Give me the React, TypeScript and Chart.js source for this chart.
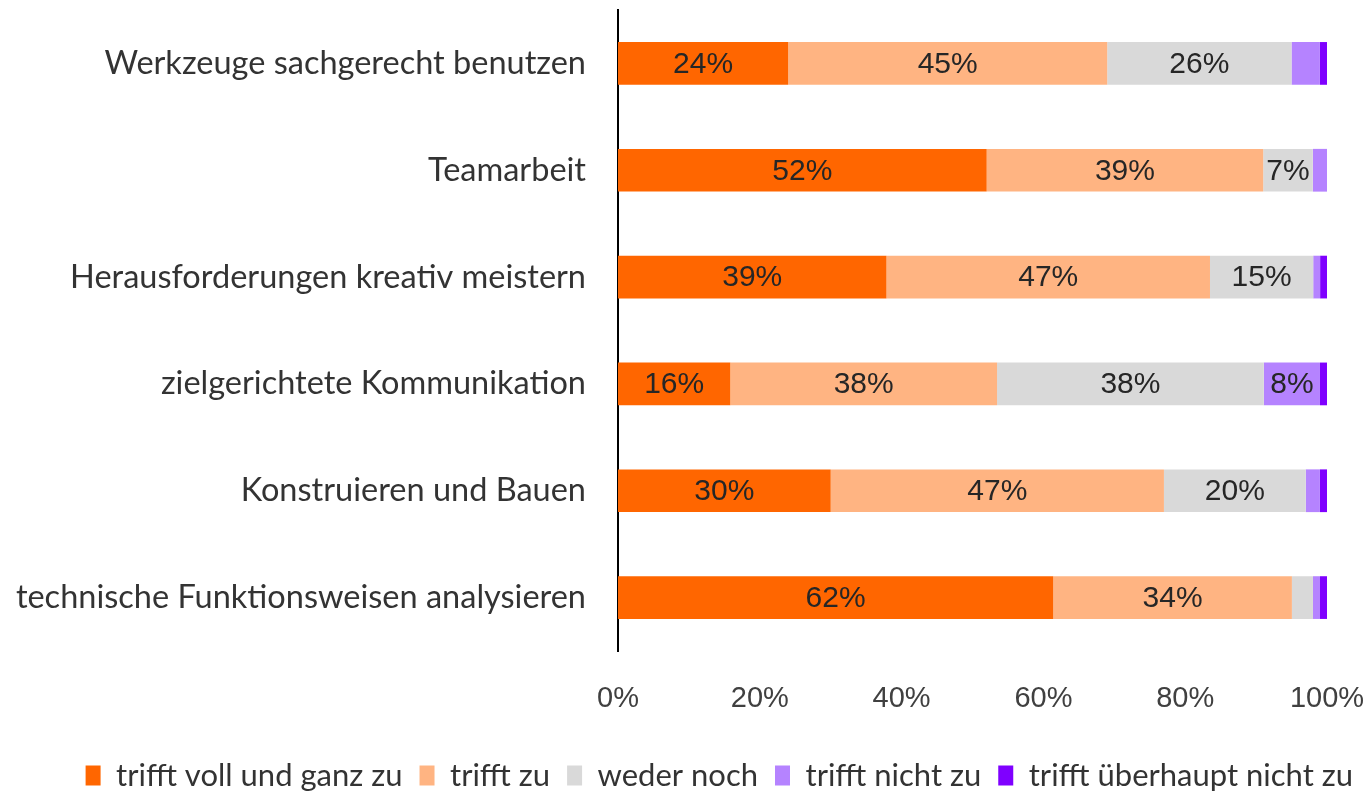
import React, { useEffect, useRef } from "react";
import { Chart, registerables } from "chart.js";

Chart.register(...registerables);

const categories = [
  "Werkzeuge sachgerecht benutzen",
  "Teamarbeit",
  "Herausforderungen kreativ meistern",
  "zielgerichtete Kommunikation",
  "Konstruieren und Bauen",
  "technische Funktionsweisen analysieren",
];

const seriesNames = [
  "trifft voll und ganz zu",
  "trifft zu",
  "weder noch",
  "trifft nicht zu",
  "trifft überhaupt nicht zu",
];

const voll = [24, 52, 39, 16, 30, 62];
const zu = [45, 39, 47, 38, 47, 34];
const weder = [26, 7, 15, 38, 20, 3];
const nicht = [4, 2, 1, 8, 2, 1];
const ueberhaupt = [1, 0, 1, 1, 1, 1];

const xTicks = [0, 20, 40, 60, 80, 100];

const colors = ["#FF6600", "#FFB482", "#D9D9D9", "#B583FF", "#7F00FF"];

const rawSeries = [voll, zu, weder, nicht, ueberhaupt];
const totals = categories.map((_, i) => rawSeries.reduce((s, arr) => s + arr[i], 0));

const labelPlugin = {
  id: "segLabels",
  afterDatasetsDraw(chart: any) {
    const ctx = chart.ctx;
    ctx.save();
    ctx.font = "30px 'Liberation Sans', Arial, sans-serif";
    ctx.fillStyle = "#262626";
    ctx.textAlign = "center";
    ctx.textBaseline = "middle";
    chart.data.datasets.forEach((ds: any, di: number) => {
      const meta = chart.getDatasetMeta(di);
      meta.data.forEach((bar: any, i: number) => {
        const raw = ds.raw[i];
        if (raw < 5) return;
        const x = (bar.x + bar.base) / 2;
        ctx.fillText(raw + "%", x, bar.y + 1);
      });
    });
    ctx.restore();
  },
};

export default function App() {
  const ref = useRef<HTMLCanvasElement>(null);
  useEffect(() => {
    document.body.style.margin = "0";
    const chart = new Chart(ref.current!, {
      type: "bar",
      data: {
        labels: categories,
        datasets: rawSeries.map((arr, k) => ({
          label: seriesNames[k],
          data: arr.map((v, i) => (v / totals[i]) * 100),
          raw: arr,
          backgroundColor: colors[k],
          borderWidth: 0,
          barPercentage: 0.8,
          categoryPercentage: 0.5,
        })) as any,
      },
      options: {
        indexAxis: "y",
        animation: false,
        responsive: true,
        maintainAspectRatio: false,
        layout: { padding: { top: 10, right: 0, bottom: -10, left: 0 } },
        plugins: {
          tooltip: { enabled: false },
          legend: {
            position: "bottom",
            align: "end",
            labels: {
              font: { family: "Lato", size: 31 },
              color: "#333333",
              boxWidth: 15,
              boxHeight: 20,
              padding: 17,
            },
          },
        },
        scales: {
          x: {
            stacked: true,
            min: 0,
            max: 100,
            afterBuildTicks: (scale: any) => {
              scale.ticks = xTicks.map((v) => ({ value: v }));
            },
            ticks: {
              callback: (v: any) => v + "%",
              font: { family: "'Liberation Sans', Arial", size: 29 },
              color: "#404040",
              padding: 31,
            },
            grid: { display: false, drawTicks: false },
            border: { display: false },
            afterFit: (scale: any) => {
              scale.height = 92;
              scale.paddingLeft = 0;
              scale.paddingRight = 43;
            },
          },
          y: {
            stacked: true,
            ticks: {
              font: { family: "Lato", size: 32.5 },
              color: "#333333",
              padding: 32,
            },
            grid: { display: false, drawTicks: false },
            border: { display: true, color: "#000000", width: 2 },
            afterFit: (scale: any) => {
              scale.width = 618;
              scale.paddingTop = 0;
              scale.paddingBottom = 0;
            },
          },
        },
      } as any,
      plugins: [labelPlugin],
    });
    return () => chart.destroy();
  }, []);
  return (
    <div style={{ position: "fixed", left: 0, top: 0, width: 1370, height: 791 }}>
      <canvas ref={ref} />
    </div>
  );
}
